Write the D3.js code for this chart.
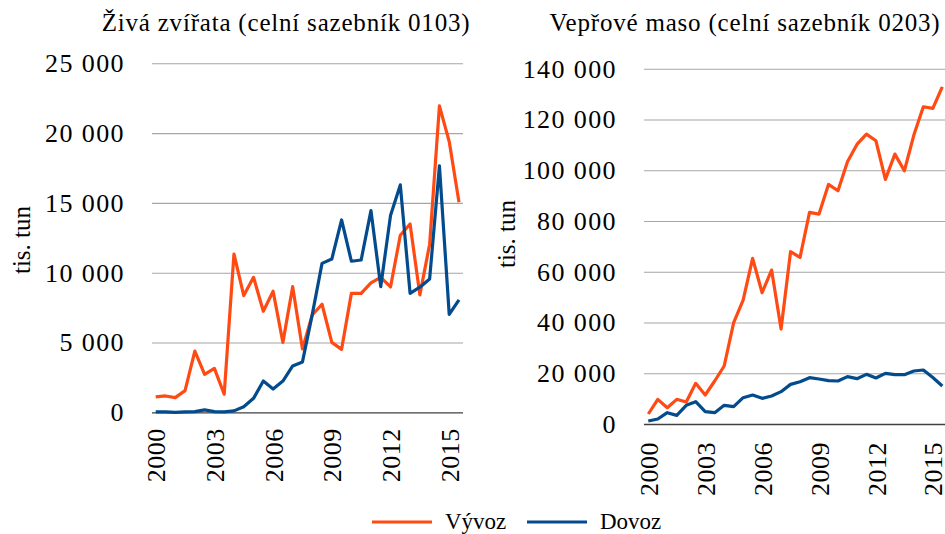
<!DOCTYPE html>
<html>
<head>
<meta charset="utf-8">
<script src="https://cdn.jsdelivr.net/npm/d3@7"></script>
<style>
  body { margin: 0; background: #fff; }
  svg { display: block; font-family: "Liberation Serif", serif; }
</style>
</head>
<body>
<svg width="945" height="534"></svg>
<script>
// Half-year periods 2000/1 ... 2015/2
const periods = [
  "2000/1","2000/2","2001/1","2001/2","2002/1","2002/2","2003/1","2003/2",
  "2004/1","2004/2","2005/1","2005/2","2006/1","2006/2","2007/1","2007/2",
  "2008/1","2008/2","2009/1","2009/2","2010/1","2010/2","2011/1","2011/2",
  "2012/1","2012/2","2013/1","2013/2","2014/1","2014/2","2015/1","2015/2"
];
const xTickPeriods = ["2000/1","2003/1","2006/1","2009/1","2012/1","2015/1"];

// Živá zvířata (0103), tonnes
const animalsExport = [
  1100, 1170, 1050, 1550, 4390, 2720, 3150, 1290,
  11340, 8360, 9670, 7240, 8670, 5010, 9000, 4540,
  6970, 7740, 5010, 4510, 8520, 8520, 9270, 9670,
  8980, 12680, 13490, 8410, 12040, 21950, 19390, 15040
];
const animalsImport = [
  30, 30, 0, 30, 50, 170, 50, 30,
  100, 400, 1000, 2240, 1670, 2240, 3320, 3610,
  7000, 10670, 10980, 13780, 10820, 10910, 14450, 9000,
  14090, 16290, 8520, 8960, 9550, 17650, 7020, 8050
];

// Vepřové maso (0203), tonnes
const porkExport = [
  3940, 9720, 6430, 9720, 8670, 16020, 11420, 16940,
  22850, 39920, 48840, 65260, 51730, 60660, 37420, 67880,
  65650, 83380, 82720, 94410, 91910, 103330, 110160, 114230,
  111610, 96370, 106350, 99790, 113840, 125000, 124340, 132880
];
const porkImport = [
  1180, 1970, 4460, 3410, 7350, 8800, 4860, 4460,
  7350, 6830, 10370, 11420, 10110, 11030, 12740, 15620,
  16680, 18250, 17730, 17070, 16940, 18650, 17860, 19560,
  18120, 19960, 19430, 19430, 20880, 21270, 18300, 14970
];

const animalsTicks = [0, 5000, 10000, 15000, 20000, 25000];
const porkTicks = [0, 20000, 40000, 60000, 80000, 100000, 120000, 140000];

const seriesNames = ["Vývoz", "Dovoz"];
const colors = ["#ff4a14", "#034b8c"];

const locale = d3.formatLocale({decimal: ",", thousands: "\u00a0", grouping: [3], currency: ["", ""]});
const fmt = locale.format(",d");

const svg = d3.select("svg");
const serif = "'Liberation Serif', serif";

function drawPanel(p) {
  const x = d3.scalePoint().domain(periods).range([p.x0, p.x1]);
  const y = d3.scaleLinear().domain([0, p.max]).range([p.yBase, p.yTop]);

  // title
  svg.append("text")
    .attr("x", p.titleX).attr("y", 31)
    .attr("text-anchor", "middle")
    .style("font-size", "25px")
    .style("letter-spacing", "0.8px")
    .text(p.title);

  // y axis + grid
  const gy = svg.append("g")
    .attr("transform", `translate(${p.gridL},0)`)
    .call(d3.axisLeft(y).tickValues(p.ticks).tickFormat(fmt)
      .tickSize(-(p.gridR - p.gridL)).tickPadding(27))
    .attr("font-family", serif);
  gy.select(".domain").remove();
  gy.selectAll(".tick line")
    .attr("stroke", d => d === 0 ? "#404040" : "#a6a6a6")
    .attr("stroke-width", d => d === 0 ? 1.3 : 1.1);
  gy.selectAll(".tick text")
    .style("font-size", "26px")
    .style("letter-spacing", "1.4px")
    .attr("fill", "#000");

  // y axis title
  svg.append("text")
    .attr("transform", `translate(${p.ylabX},${p.ylabY}) rotate(-90)`)
    .attr("text-anchor", "middle")
    .attr("dy", "0.35em")
    .style("font-size", "25px")
    .text("tis. tun");

  // x axis
  const gx = svg.append("g")
    .attr("transform", `translate(0,${p.yBase})`)
    .call(d3.axisBottom(x).tickValues(xTickPeriods).tickFormat(d => d.slice(0, 4)).tickSize(0))
    .attr("font-family", serif);
  gx.select(".domain").remove();
  gx.selectAll(".tick text")
    .attr("transform", "rotate(-90)")
    .attr("x", -p.xlabGap).attr("y", 0)
    .attr("dy", "0.35em")
    .attr("text-anchor", "end")
    .attr("fill", "#000")
    .style("font-size", "26px")
    .style("letter-spacing", "0.5px");

  // lines
  const line = d3.line()
    .x((d, i) => x(periods[i]))
    .y(d => y(d));
  [p.exp, p.imp].forEach((vals, k) => {
    svg.append("path")
      .datum(vals)
      .attr("fill", "none")
      .attr("stroke", colors[k])
      .attr("stroke-width", 3.2)
      .attr("stroke-linejoin", "round")
      .attr("d", line);
  });
}

drawPanel({
  title: "Živá zvířata (celní sazebník 0103)", titleX: 286,
  x0: 155.7, x1: 459, gridL: 152, gridR: 463,
  yBase: 412.3, yTop: 63.3, max: 25000, ticks: animalsTicks,
  ylabX: 21, ylabY: 240, xlabGap: 16,
  exp: animalsExport, imp: animalsImport
});

drawPanel({
  title: "Vepřové maso (celní sazebník 0203)", titleX: 745,
  x0: 648.3, x1: 942.3, gridL: 644, gridR: 945,
  yBase: 424, yTop: 68.7, max: 140000, ticks: porkTicks,
  ylabX: 506, ylabY: 234, xlabGap: 18,
  exp: porkExport, imp: porkImport
});

// legend
const legend = svg.append("g");
const legendX = [372, 527];
seriesNames.forEach((name, k) => {
  legend.append("line")
    .attr("x1", legendX[k]).attr("x2", legendX[k] + 60)
    .attr("y1", 522).attr("y2", 522)
    .attr("stroke", colors[k]).attr("stroke-width", 3.2);
  legend.append("text")
    .attr("x", legendX[k] + 73).attr("y", 529)
    .style("font-size", "23px")
    .text(name);
});
</script>
</body>
</html>
